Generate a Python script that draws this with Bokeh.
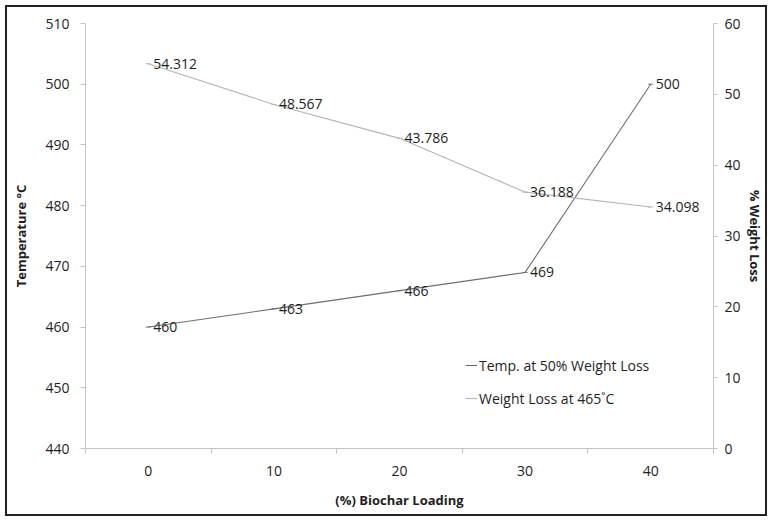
from bokeh.plotting import figure
from bokeh.models import (Range1d, LinearAxis, FixedTicker, ColumnDataSource,
                          LabelSet, Legend, LegendItem)
from bokeh.core.properties import value
from bokeh.embed import file_html
from bokeh.resources import INLINE

# ---- data ----
loading = ["0", "10", "20", "30", "40"]
temp_50 = [460, 463, 466, 469, 500]
wl_465 = [54.312, 48.567, 43.786, 36.188, 34.098]
temp_ticks = [440, 450, 460, 470, 480, 490, 500, 510]
wl_ticks = [0, 10, 20, 30, 40, 50, 60]

FONT = "Open Sans"
TXT = "#1e1e1e"
AX = "#c4c4c4"
C_T = "#6e6e6e"
C_W = "#b4b4b4"

xpos = [i + 0.5 for i in range(len(loading))]

p = figure(width=762, height=511, output_backend="svg", toolbar_location=None,
           x_range=Range1d(0, len(loading)), y_range=Range1d(440, 510),
           min_border_left=78, min_border_right=56, min_border_top=16,
           min_border_bottom=70)
p.styles = {"margin": "5px 0 0 5px", "border": "2px solid #222"}
p.xgrid.visible = False
p.ygrid.visible = False
p.outline_line_color = None
p.background_fill_color = "white"
p.border_fill_color = "white"

p.extra_y_ranges = {"wl": Range1d(0, 60)}

# x axis
xa = p.xaxis[0]
xa.ticker = FixedTicker(ticks=xpos, minor_ticks=list(range(len(loading) + 1)))
xa.major_label_overrides = {x: lab for x, lab in zip(xpos, loading)}
xa.major_tick_out = 0
xa.major_tick_in = 0
xa.minor_tick_line_color = AX
xa.minor_tick_out = 5
xa.minor_tick_in = 0
xa.major_label_standoff = 12
xa.axis_label = "(%) Biochar Loading"
xa.axis_label_standoff = 12

# left axis
ya = p.yaxis[0]
ya.ticker = FixedTicker(ticks=temp_ticks)
ya.minor_tick_line_color = None
ya.major_tick_out = 5
ya.major_tick_in = 0
ya.major_label_standoff = 11
ya.axis_label = "Temperature \u00b0C"
ya.axis_label_standoff = 12

# right axis
ra = LinearAxis(y_range_name="wl", ticker=FixedTicker(ticks=wl_ticks))
ra.minor_tick_line_color = None
ra.major_tick_out = 4
ra.major_tick_in = 0
ra.major_label_standoff = 7
ra.axis_label = "% Weight Loss"
ra.axis_label_standoff = 2
p.add_layout(ra, "right")

for ax in [xa, ya, ra]:
    ax.axis_line_color = AX
    ax.major_label_text_font = FONT
    ax.major_label_text_font_size = "14px"
    ax.major_label_text_color = TXT
    ax.axis_label_text_font = FONT
    ax.axis_label_text_font_size = "13px"
    ax.axis_label_text_font_style = "bold"
    ax.axis_label_text_color = TXT
ya.major_tick_line_color = AX
ra.major_tick_line_color = AX
xa.major_tick_line_color = None

src = ColumnDataSource(dict(x=xpos, t=temp_50, w=wl_465,
                            tl=[str(v) for v in temp_50],
                            wlab=[f"{v:.3f}" for v in wl_465]))

lt = p.line("x", "t", source=src, line_color=C_T, line_width=1.1)
mt = p.scatter("x", "t", source=src, marker="dash", size=5, line_color=C_T)
lw = p.line("x", "w", source=src, y_range_name="wl", line_color=C_W, line_width=1.1)
mw = p.scatter("x", "w", source=src, y_range_name="wl", marker="dash", size=5,
               line_color=C_W)

p.add_layout(LabelSet(x="x", y="t", text="tl", source=src, x_offset=5,
                      text_baseline="middle", text_font=value(FONT),
                      text_font_size=value("14px"), text_color=value(TXT)))
p.add_layout(LabelSet(x="x", y="w", text="wlab", source=src, y_range_name="wl",
                      x_offset=5, text_baseline="middle", text_font=value(FONT),
                      text_font_size=value("14px"), text_color=value(TXT)))

leg = Legend(items=[LegendItem(label="Temp. at 50% Weight Loss", renderers=[lt, mt]),
                    LegendItem(label="Weight Loss at 465\u02daC", renderers=[lw, mw])],
             location=(380, 40), orientation="vertical")
leg.background_fill_alpha = 0
leg.border_line_color = None
leg.padding = 0
leg.margin = 0
leg.spacing = 13
leg.glyph_width = 12
leg.glyph_height = 20
leg.label_height = 20
leg.label_standoff = 2
leg.label_text_font = FONT
leg.label_text_font_size = "14px"
leg.label_text_color = TXT
p.add_layout(leg, "center")

open("out.html", "w").write(file_html(p, INLINE))
